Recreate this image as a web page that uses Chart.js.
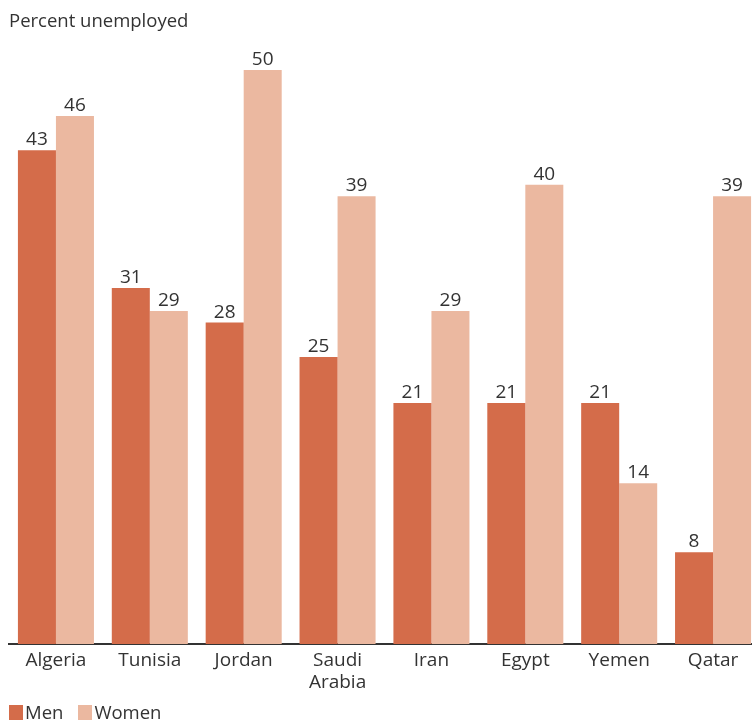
<!DOCTYPE html>
<html>
<head>
<meta charset="utf-8">
<script src="https://cdn.jsdelivr.net/npm/chart.js@4/dist/chart.umd.min.js"></script>
<style>
  html, body { margin: 0; padding: 0; background: #fff; overflow: hidden; }
  #wrap { position: relative; width: 760px; height: 724px; }
  #legenda { position: absolute; left: 9px; top: 702px; font: 18.5px "Open Sans", sans-serif; color: #333; display: flex; align-items: center; }
  #legenda span.caixa { display: inline-block; width: 14px; height: 15px; margin-right: 2px; }
  #legenda span.item { margin-right: 15px; display: flex; align-items: center; line-height: 20px; }
</style>
</head>
<body>
<div id="wrap">
  <canvas id="grafico" width="760" height="724"></canvas>
  <div id="legenda"></div>
</div>
<script>
// dados do gráfico
const paises = ['Algeria', 'Tunisia', 'Jordan', ['Saudi', 'Arabia'], 'Iran', 'Egypt', 'Yemen', 'Qatar'];
const homens = [43, 31, 28, 25, 21, 21, 21, 8];
const mulheres = [46, 29, 50, 39, 29, 40, 14, 39];
const nomesSeries = ['Men', 'Women'];
const cores = ['#D46C4A', '#EBB8A0'];
const tituloEixo = 'Percent unemployed';

const fonte = '"Open Sans", sans-serif';

// plugin: título no topo e números em cima das barras
const rotulos = {
  id: 'rotulos',
  afterDatasetsDraw(chart) {
    const ctx = chart.ctx;
    ctx.save();
    ctx.fillStyle = '#333';
    ctx.font = '18.5px ' + fonte;
    ctx.textAlign = 'left';
    ctx.textBaseline = 'alphabetic';
    ctx.fillText(tituloEixo, 9, 27);

    ctx.font = '19px ' + fonte;
    ctx.textAlign = 'center';
    chart.data.datasets.forEach((ds, i) => {
      chart.getDatasetMeta(i).data.forEach((barra, j) => {
        ctx.fillText(ds.data[j], barra.x, barra.y - 5);
      });
    });
    ctx.restore();
  }
};

new Chart(document.getElementById('grafico'), {
  type: 'bar',
  data: {
    labels: paises,
    datasets: [
      { label: nomesSeries[0], data: homens, backgroundColor: cores[0] },
      { label: nomesSeries[1], data: mulheres, backgroundColor: cores[1] }
    ]
  },
  options: {
    responsive: false,
    animation: false,
    layout: { padding: { left: 9, right: 0, top: 40, bottom: 30 } },
    datasets: { bar: { barPercentage: 1.0, categoryPercentage: 0.81 } },
    plugins: {
      legend: { display: false },
      tooltip: { enabled: false }
    },
    scales: {
      x: {
        grid: { display: false },
        border: { display: true, color: '#333', width: 2 },
        ticks: { color: '#333', font: { family: fonte, size: 19, lineHeight: 1.15 }, padding: -2, maxRotation: 0, autoSkip: false },
        afterFit: s => { s.height = 50; }
      },
      y: {
        display: false,
        min: 0,
        max: (644 - 40) / 11.48
      }
    }
  },
  plugins: [rotulos]
});

// legenda em html
const legenda = document.getElementById('legenda');
nomesSeries.forEach((nome, i) => {
  legenda.innerHTML += '<span class="item"><span class="caixa" style="background:' + cores[i] + '"></span>' + nome + '</span>';
});
</script>
</body>
</html>
